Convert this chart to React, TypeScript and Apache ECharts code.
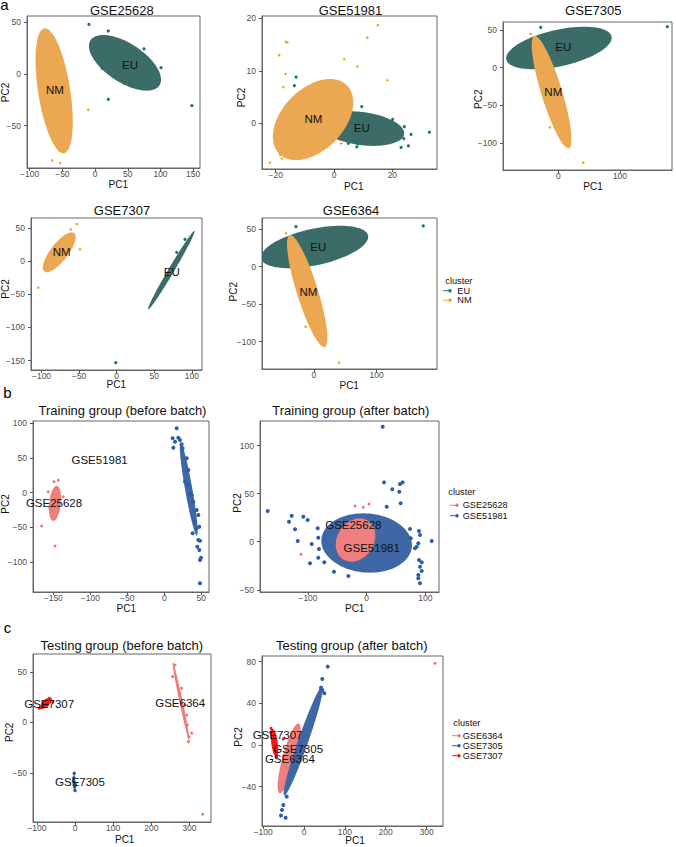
import React, { useEffect, useRef } from "react";
import * as echarts from "echarts";

const FONT = '"Liberation Sans", Arial, Helvetica, sans-serif';

// colours
const EU_FILL = "#3B6C68";
const EU_PT = "#15786F";
const NM_FILL = "#EBA751";
const NM_PT = "#F4A02A";
const SALMON_FILL = "#EE7F7E";
const SALMON_PT = "#F27373";
const BLUE_FILL = "#3F67A6";
const BLUE_PT = "#2C5DA9";
const RED_PT = "#FF1414";

// ellipse format: [topX, topY, bottomX, bottomY, halfWidthAtCentre]

// ---------- a: GSE25628 ----------
const gse25628XTicks = [-100, -50, 0, 50, 100, 150];
const gse25628YTicks = [-50, 0, 50];
const gse25628EUEllipse = [12.5, 37.7, 78.9, -16.1, 44];
const gse25628NMEllipse = [-76.6, 44.2, -48.6, -76.7, 24.8];
const gse25628EU = [[-9.3, 48], [20.2, 41.6], [74.8, 24.2], [15.1, 17.7], [11, 5.5], [100.8, 6.1], [20.2, -24.5], [148, -30.6]];
const gse25628NM = [[-10.4, -34.8], [-65.4, -83.5], [-53.2, -86.1]];
const gse25628Labels: [number, number, string][] = [[-61.3, -15.5, "NM"], [53.4, 8.7, "EU"]];

// ---------- a: GSE51981 ----------
const gse51981XTicks = [-20, 0, 20];
const gse51981YTicks = [0, 10, 20];
const gse51981EUEllipse = [5.5, 2.3, 13.5, -4.3, 14];
const gse51981NMEllipse = [-1.4, 8.44, -13, -7, 12.5];
const gse51981EU = [[-13, 8.8], [-13.6, 7.2], [9.5, 3.2], [20.1, 0.76], [24.1, -0.65], [26.4, -2.1], [32.7, -1.7], [23.9, -2.9], [25.5, -4.3], [23, -4.6], [4.9, -3.8], [6.9, -3.5], [7.8, -4.5], [8.3, -3.9]];
const gse51981NM = [[-16.5, 15.5], [-16, 15.4], [-18.8, 13], [15, 18.7], [11.4, 16.3], [3.5, 12.2], [8, 10.8], [-16.6, 9.4], [18.3, 8.2], [-17.4, 6.9], [-18.5, -6], [-17.9, -6.7], [-22, -7.5], [2.4, -3.8]];
const gse51981Labels: [number, number, string][] = [[-7.1, 0.76, "NM"], [9.5, -0.95, "EU"]];

// ---------- a: GSE7305 ----------
const gse7305XTicks = [0, 100];
const gse7305YTicks = [-100, -50, 0, 50];
const gse7305EUEllipse = [42, 54.5, -40, -2, 75];
const gse7305NMEllipse = [-37.8, 42.2, 16.2, -107.2, 17.6];
const gse7305EU = [[-28.5, 53.7], [176.7, 54.5]];
const gse7305NM = [[-44.7, 44.8], [-13.5, -79.3], [40.5, -126.3]];
const gse7305Labels: [number, number, string][] = [[8.1, 28, "EU"], [-8.1, -31.9, "NM"]];

// ---------- a: GSE7307 ----------
const gse7307XTicks = [-100, -50, 0, 50, 100];
const gse7307YTicks = [-150, -100, -50, 0, 50];
const gse7307EUEllipse = [103.2, 45.2, 42, -72.8, 4.5];
const gse7307NMEllipse = [-59.8, 43.2, -93.1, -17, 14];
const gse7307EU = [[90.8, 32.7], [79.8, 13.1], [-1.3, -153.2]];
const gse7307NM = [[-53.2, 55.7], [-61.2, 47.7], [-48.8, 17.6], [-94, -3.5], [-104.3, -40.2]];
const gse7307Labels: [number, number, string][] = [[-73.1, 14, "NM"], [73.1, -16.1, "EU"]];

// ---------- a: GSE6364 ----------
const gse6364XTicks = [0, 100];
const gse6364YTicks = [-100, -50, 0, 50];
const gse6364EUEllipse = [42, 54.5, -40, -2, 75];
const gse6364NMEllipse = [-37.8, 42.2, 16.2, -107.2, 17.6];
const gse6364EU = [[-28.7, 53.3], [174.3, 54.3]];
const gse6364NM = [[-44.7, 44.5], [-13.3, -80], [39.9, -128]];
const gse6364Labels: [number, number, string][] = [[6.9, 26.7, "EU"], [-9, -33.3, "NM"]];

// ---------- b: Training group (before batch) ----------
const trainBeforeXTicks = [-150, -100, -50, 0, 50];
const trainBeforeYTicks = [-100, -50, 0, 50, 100];
const trainBeforeRedEllipse = [-145.4, 10.1, -150, -40.9, 7.9];
const trainBeforeBlueEllipse = [22, 72, 44, -62, 5];
const trainBeforeRed = [[-165.7, -48.1], [-147.7, -77.1], [-143.2, 17.9], [-149, 15.9], [-156.8, 1.4], [-136.5, -5.8], [-154.5, -22.7]];
const trainBeforeBlue = [[16.7, 93], [11.3, 78.6], [14.5, 73.7], [18.9, 79.5], [21.2, 76.2], [23.5, 69.9], [12.2, 65], [24.8, 64.2], [30.3, 49.7], [32.5, 32.8], [28, 15.9], [37, -3.3], [39.2, -13], [43.8, -25], [46, -32.2], [41.5, -41.9], [47.3, -49.1], [38.4, -58.7], [43.8, -51.4], [46, -68.4], [48.2, -69.4], [44.6, -78], [47.3, -82.8], [49.6, -93.9], [48.2, -97.3], [48.2, -130.9], [32.5, 11.1], [34.7, -0.9]];
const trainBeforeLabels: [number, number, string][] = [[-87.4, 47.5, "GSE51981"], [-149, -14.5, "GSE25628"]];

// ---------- b: Training group (after batch) ----------
const trainAfterXTicks = [-100, 0, 100];
const trainAfterYTicks = [-50, 0, 50, 100];
const trainAfterBlueEllipse = [-5.8, 29.5, 5.6, -32.2, 77];
const trainAfterRedEllipse = [-12, 24.3, -26, -20.8, 33];
const trainAfterBlue = [[27.3, 119.5], [29.5, 61.7], [43.6, 54.5], [56.7, 60], [61.3, 61.7], [55.5, 52], [57.9, 39.9], [34.1, 36.4], [-168.7, 31.9], [-127.8, 27], [-132.4, 20.8], [-108, 26], [-100.5, 22.6], [-122.1, 12.9], [-83.5, 13.9], [-117.5, 0.7], [-93.7, -2.4], [-82.5, 4.2], [-81.3, -7.6], [-96.6, -22.5], [-82.5, -16.6], [-72.2, -21.4], [-55.7, -31.2], [-31.3, -35.7], [73.8, 13.2], [89.1, 11.1], [90.8, 7], [87.9, -1.7], [85.2, -5.2], [82.3, -6.9], [110.7, 0.7], [89.1, -19], [93.7, -21.4], [90.8, -26], [93.7, -30.5], [87.9, -38], [90.8, -43.2], [87.9, -34.6], [75, 3.5]];
const trainAfterRed = [[-19.9, 37.1], [-5.8, 35.8], [3.9, 39.2], [-111.9, -13.1]];
const trainAfterLabels: [number, number, string][] = [[-22.8, 17.4, "GSE25628"], [8.5, -6.9, "GSE51981"]];

// ---------- c: Testing group (before batch) ----------
const testBeforeXTicks = [-100, 0, 100, 200, 300];
const testBeforeYTicks = [-50, 0, 50];
const testBeforeRedEllipse = [-68, 24.2, -84, 13.4, 12];
const testBeforeBlueEllipse = [-3, -51, -1, -67, 2.5];
const testBeforeSalmonEllipse = [256, 60, 300, -19, 4.5];
const testBeforeRed = [[-93.5, 13.9], [-63.8, 22.8], [-67.3, 23.8], [-58.5, 20], [-88, 14.5]];
const testBeforeBlue = [[-2, -50.5], [-3, -55], [0, -60], [-1, -64], [0, -67.5], [-4, -58], [1, -62]];
const testBeforeSalmon = [[256, 45.2], [262.1, 56.7], [279.6, 33.7], [273.4, 28.7], [288.3, 17.1], [292.7, 7.2], [294.4, -2.7], [298.8, -14.3], [297.1, -19.2], [305.9, -10.9], [334.7, -91.1]];
const testBeforeLabels: [number, number, string][] = [[-67.8, 17.8, "GSE7307"], [275.6, 18.8, "GSE6364"], [13, -59.4, "GSE7305"]];

// ---------- c: Testing group (after batch) ----------
const testAfterXTicks = [-100, 0, 100, 200, 300];
const testAfterYTicks = [-40, 0, 40, 80];
const testAfterSalmonEllipse = [-13.9, 20.8, -58.8, -46.4, 17];
const testAfterBlueEllipse = [44.8, 56.6, -48.2, -48.6, 13];
const testAfterRedEllipse = [-76, 15, -68, -12, 8];
const testAfterBlue = [[58, 75.2], [44.8, 63.4], [49.8, 49.6], [44.8, 52.8], [41.6, 55], [-56.3, -67.8], [-44.9, -69.8], [-53.9, -62.4], [-50.6, -57.6], [-42.4, -49.6]];
const testAfterSalmon = [[320.7, 78.4]];
const testAfterRed = [[-50.6, 5.8], [-80.8, 16], [-67, -11.5], [-82, 12], [-78, 14]];
const testAfterLabels: [number, number, string][] = [[-64.7, 9.6, "GSE7307"], [-14.4, -4.1, "GSE7305"], [-34.6, -13.4, "GSE6364"]];

type Layer =
  | { kind: "ellipse"; data: number[]; color: string }
  | { kind: "points"; data: number[][]; color: string; size: number }
  | { kind: "labels"; data: [number, number, string][] };

interface Panel {
  rect: { left: number; top: number; width: number; height: number };
  x: [number, number];
  y: [number, number];
  xt: number[];
  yt: number[];
  layers: Layer[];
}

const panels: Panel[] = [
  {
    rect: { left: 27, top: 16, width: 173, height: 152 }, x: [-104.1, 160.4], y: [-90.9, 56.1],
    xt: gse25628XTicks, yt: gse25628YTicks,
    layers: [
      { kind: "ellipse", data: gse25628EUEllipse, color: EU_FILL },
      { kind: "ellipse", data: gse25628NMEllipse, color: NM_FILL },
      { kind: "points", data: gse25628EU, color: EU_PT, size: 3.2 },
      { kind: "points", data: gse25628NM, color: NM_PT, size: 2.6 },
      { kind: "labels", data: gse25628Labels },
    ],
  },
  {
    rect: { left: 262, top: 16, width: 175, height: 153 }, x: [-24.7, 35.3], y: [-8.7, 20.44],
    xt: gse51981XTicks, yt: gse51981YTicks,
    layers: [
      { kind: "ellipse", data: gse51981EUEllipse, color: EU_FILL },
      { kind: "ellipse", data: gse51981NMEllipse, color: NM_FILL },
      { kind: "points", data: gse51981EU, color: EU_PT, size: 3.2 },
      { kind: "points", data: gse51981NM, color: NM_PT, size: 2.6 },
      { kind: "labels", data: gse51981Labels },
    ],
  },
  {
    rect: { left: 503, top: 22, width: 169, height: 148 }, x: [-89.6, 184.3], y: [-136, 60.8],
    xt: gse7305XTicks, yt: gse7305YTicks,
    layers: [
      { kind: "ellipse", data: gse7305EUEllipse, color: EU_FILL },
      { kind: "ellipse", data: gse7305NMEllipse, color: NM_FILL },
      { kind: "points", data: gse7305EU, color: EU_PT, size: 3.2 },
      { kind: "points", data: gse7305NM, color: NM_PT, size: 2.6 },
      { kind: "labels", data: gse7305Labels },
    ],
  },
  {
    rect: { left: 31, top: 218, width: 171, height: 152 }, x: [-114, 113.4], y: [-164.2, 64.8],
    xt: gse7307XTicks, yt: gse7307YTicks,
    layers: [
      { kind: "ellipse", data: gse7307EUEllipse, color: EU_FILL },
      { kind: "ellipse", data: gse7307NMEllipse, color: NM_FILL },
      { kind: "points", data: gse7307EU, color: EU_PT, size: 3.2 },
      { kind: "points", data: gse7307NM, color: NM_PT, size: 2.6 },
      { kind: "labels", data: gse7307Labels },
    ],
  },
  {
    rect: { left: 262, top: 218, width: 175, height: 151 }, x: [-82.9, 196.2], y: [-136.4, 64.9],
    xt: gse6364XTicks, yt: gse6364YTicks,
    layers: [
      { kind: "ellipse", data: gse6364EUEllipse, color: EU_FILL },
      { kind: "ellipse", data: gse6364NMEllipse, color: NM_FILL },
      { kind: "points", data: gse6364EU, color: EU_PT, size: 3.2 },
      { kind: "points", data: gse6364NM, color: NM_PT, size: 2.6 },
      { kind: "labels", data: gse6364Labels },
    ],
  },
  {
    rect: { left: 33, top: 421, width: 176, height: 171 }, x: [-177.4, 60.4], y: [-143.5, 103.6],
    xt: trainBeforeXTicks, yt: trainBeforeYTicks,
    layers: [
      { kind: "ellipse", data: trainBeforeRedEllipse, color: SALMON_FILL },
      { kind: "ellipse", data: trainBeforeBlueEllipse, color: BLUE_FILL },
      { kind: "points", data: trainBeforeRed, color: SALMON_PT, size: 3 },
      { kind: "points", data: trainBeforeBlue, color: BLUE_PT, size: 4 },
      { kind: "labels", data: trainBeforeLabels },
    ],
  },
  {
    rect: { left: 260, top: 421, width: 179, height: 171 }, x: [-181.8, 123.2], y: [-52.3, 125.5],
    xt: trainAfterXTicks, yt: trainAfterYTicks,
    layers: [
      { kind: "ellipse", data: trainAfterBlueEllipse, color: BLUE_FILL },
      { kind: "ellipse", data: trainAfterRedEllipse, color: SALMON_FILL },
      { kind: "points", data: trainAfterBlue, color: BLUE_PT, size: 4 },
      { kind: "points", data: trainAfterRed, color: SALMON_PT, size: 3 },
      { kind: "labels", data: trainAfterLabels },
    ],
  },
  {
    rect: { left: 33, top: 654, width: 178, height: 168 }, x: [-110.1, 356.5], y: [-98.7, 67.6],
    xt: testBeforeXTicks, yt: testBeforeYTicks,
    layers: [
      { kind: "ellipse", data: testBeforeSalmonEllipse, color: SALMON_FILL },
      { kind: "ellipse", data: testBeforeBlueEllipse, color: BLUE_FILL },
      { kind: "ellipse", data: testBeforeRedEllipse, color: RED_PT },
      { kind: "points", data: testBeforeSalmon, color: SALMON_PT, size: 3 },
      { kind: "points", data: testBeforeBlue, color: BLUE_PT, size: 3.5 },
      { kind: "points", data: testBeforeRed, color: RED_PT, size: 3 },
      { kind: "labels", data: testBeforeLabels },
    ],
  },
  {
    rect: { left: 262, top: 656, width: 181, height: 170 }, x: [-102.8, 340.3], y: [-77.8, 85.4],
    xt: testAfterXTicks, yt: testAfterYTicks,
    layers: [
      { kind: "ellipse", data: testAfterSalmonEllipse, color: SALMON_FILL },
      { kind: "ellipse", data: testAfterBlueEllipse, color: BLUE_FILL },
      { kind: "ellipse", data: testAfterRedEllipse, color: RED_PT },
      { kind: "points", data: testAfterSalmon, color: SALMON_PT, size: 3 },
      { kind: "points", data: testAfterBlue, color: BLUE_PT, size: 4 },
      { kind: "points", data: testAfterRed, color: RED_PT, size: 3 },
      { kind: "labels", data: testAfterLabels },
    ],
  },
];

// titles and axis-name placement (layout)
const titleText = ["GSE25628", "GSE51981", "GSE7305", "GSE7307", "GSE6364", "Training group (before batch)", "Training group (after batch)", "Testing group (before batch)", "Testing group (after batch)"];
const titlePos = [[121.8, 10.3], [350.5, 10.7], [593.3, 10.5], [122, 210.3], [351, 210.3], [122.5, 410.3], [350.8, 410.3], [121.8, 645.7], [351.8, 645.7]];
const pc1Pos = [[118.3, 184], [353.8, 186], [593, 186.8], [116.3, 384], [349.2, 385.2], [126.3, 608.5], [354.7, 608.5], [124.7, 839.5], [355, 840.5]];
const pc2Pos = [[5, 92.5], [241, 97.5], [478, 99.2], [5, 289], [233.5, 291.7], [5.8, 504], [237.5, 503], [9.2, 732.3], [238.5, 737]];

const legendA = ["EU", "NM"];
const legendAColors = [EU_PT, NM_PT];
const legendB = ["GSE25628", "GSE51981"];
const legendBColors = [SALMON_PT, BLUE_PT];
const legendC = ["GSE6364", "GSE7305", "GSE7307"];
const legendCColors = [SALMON_PT, BLUE_PT, RED_PT];

const fmt = (v: number) => (v < 0 ? "\u2212" + Math.abs(v) : String(v));

function text(x: number, y: number, t: string, size: number, opts: any = {}) {
  return {
    type: "text",
    x,
    y,
    rotation: opts.rotation || 0,
    silent: true,
    z: 10,
    style: {
      text: t,
      fontSize: size,
      fontFamily: FONT,
      fill: opts.color || "#000",
      align: opts.align || "center",
      verticalAlign: "middle",
    },
  };
}

function legendGroup(title: string, tx: number, ty: number, items: string[], colors: string[], mx: number, textX: number, y0: number, dy: number) {
  const els: any[] = [text(tx, ty, title, 9.2, { align: "left", color: "#111" })];
  items.forEach((it, i) => {
    const y = y0 + i * dy;
    els.push({ type: "line", silent: true, z: 10, shape: { x1: mx - 5, y1: y, x2: mx + 2, y2: y }, style: { stroke: colors[i], lineWidth: 1 } });
    els.push({ type: "circle", silent: true, z: 10, shape: { cx: mx + 2, cy: y, r: 1.7 }, style: { fill: colors[i] } });
    els.push(text(textX, y, it, 9.2, { align: "left", color: "#111" }));
  });
  return els;
}

function ellipseSeries(gi: number, d: number[], color: string) {
  return {
    type: "custom",
    xAxisIndex: gi,
    yAxisIndex: gi,
    clip: true,
    silent: true,
    z: 1,
    data: [d],
    renderItem: (params: any, api: any) => {
      const tx = api.value(0), ty = api.value(1), bx = api.value(2), by = api.value(3), w = api.value(4);
      const cx = (tx + bx) / 2, cy = (ty + by) / 2;
      const ux = tx - cx, uy = ty - cy;
      const pts: number[][] = [];
      const N = 90;
      for (let k = 0; k < N; k++) {
        const t = (k / N) * Math.PI * 2;
        pts.push(api.coord([cx + Math.cos(t) * ux + Math.sin(t) * w, cy + Math.cos(t) * uy]));
      }
      return { type: "polygon", shape: { points: pts }, style: { fill: color } };
    },
  };
}

function labelSeries(gi: number, labels: [number, number, string][]) {
  return {
    type: "custom",
    xAxisIndex: gi,
    yAxisIndex: gi,
    silent: true,
    z: 5,
    data: labels.map((l) => [l[0], l[1]]),
    renderItem: (params: any, api: any) => {
      const p = api.coord([api.value(0), api.value(1)]);
      return {
        type: "text",
        x: p[0],
        y: p[1],
        style: { text: labels[params.dataIndex][2], fontSize: 11.5, fontFamily: FONT, fill: "#111", align: "center", verticalAlign: "middle" },
      };
    },
  };
}

export default function App() {
  const ref = useRef<HTMLDivElement>(null);
  useEffect(() => {
    if (!ref.current) return;
    const chart = echarts.init(ref.current, null, { renderer: "svg" });
    const grid: any[] = [];
    const xAxis: any[] = [];
    const yAxis: any[] = [];
    const series: any[] = [];
    const axisCommon = (ticks: number[]) => ({
      type: "value",
      splitLine: { show: false },
      axisLine: { show: true, onZero: false, lineStyle: { color: "#666", width: 1 } },
      axisTick: { show: true, length: 3, customValues: ticks, lineStyle: { color: "#555" } },
      axisLabel: { customValues: ticks, fontSize: 8.5, color: "#4D4D4D", fontFamily: FONT, formatter: fmt },
    });
    panels.forEach((p, i) => {
      grid.push({ ...p.rect, show: true, borderColor: "#666", borderWidth: 1, backgroundColor: "transparent", containLabel: false });
      const xa: any = { ...axisCommon(p.xt), gridIndex: i, min: p.x[0], max: p.x[1], position: "bottom" };
      xa.axisLabel = { ...xa.axisLabel, margin: 1.5 };
      const ya: any = { ...axisCommon(p.yt), gridIndex: i, min: p.y[0], max: p.y[1], position: "left" };
      ya.axisLabel = { ...ya.axisLabel, margin: 6 };
      xAxis.push(xa);
      yAxis.push(ya);
      p.layers.forEach((l) => {
        if (l.kind === "ellipse") series.push(ellipseSeries(i, l.data, l.color));
        else if (l.kind === "points")
          series.push({ type: "scatter", xAxisIndex: i, yAxisIndex: i, z: 3, silent: true, symbolSize: l.size, itemStyle: { color: l.color, opacity: 1 }, data: l.data });
        else series.push(labelSeries(i, l.data));
      });
    });

    const graphic: any[] = [];
    titleText.forEach((t, i) => graphic.push(text(titlePos[i][0], titlePos[i][1], t, 13, { color: "#111" })));
    pc1Pos.forEach((p) => graphic.push(text(p[0], p[1], "PC1", 10, { color: "#111" })));
    pc2Pos.forEach((p) => graphic.push(text(p[0], p[1], "PC2", 10, { color: "#111", rotation: Math.PI / 2 })));
    graphic.push(text(4.5, 4.5, "a", 15));
    graphic.push(text(7.5, 392.5, "b", 15));
    graphic.push(text(7.5, 627, "c", 15));
    graphic.push(...legendGroup("cluster", 445.3, 281, legendA, legendAColors, 448, 457.3, 290.7, 9.5));
    graphic.push(...legendGroup("cluster", 448.3, 492.3, legendB, legendBColors, 455, 462.7, 505.3, 10.4));
    graphic.push(...legendGroup("cluster", 453.3, 723.3, legendC, legendCColors, 457, 462.7, 735.7, 10));

    chart.setOption({
      animation: false,
      backgroundColor: "#fff",
      grid,
      xAxis,
      yAxis,
      series,
      graphic,
    });
    return () => chart.dispose();
  }, []);
  return <div ref={ref} style={{ position: "absolute", left: 0, top: 0, width: 676, height: 847 }} />;
}
